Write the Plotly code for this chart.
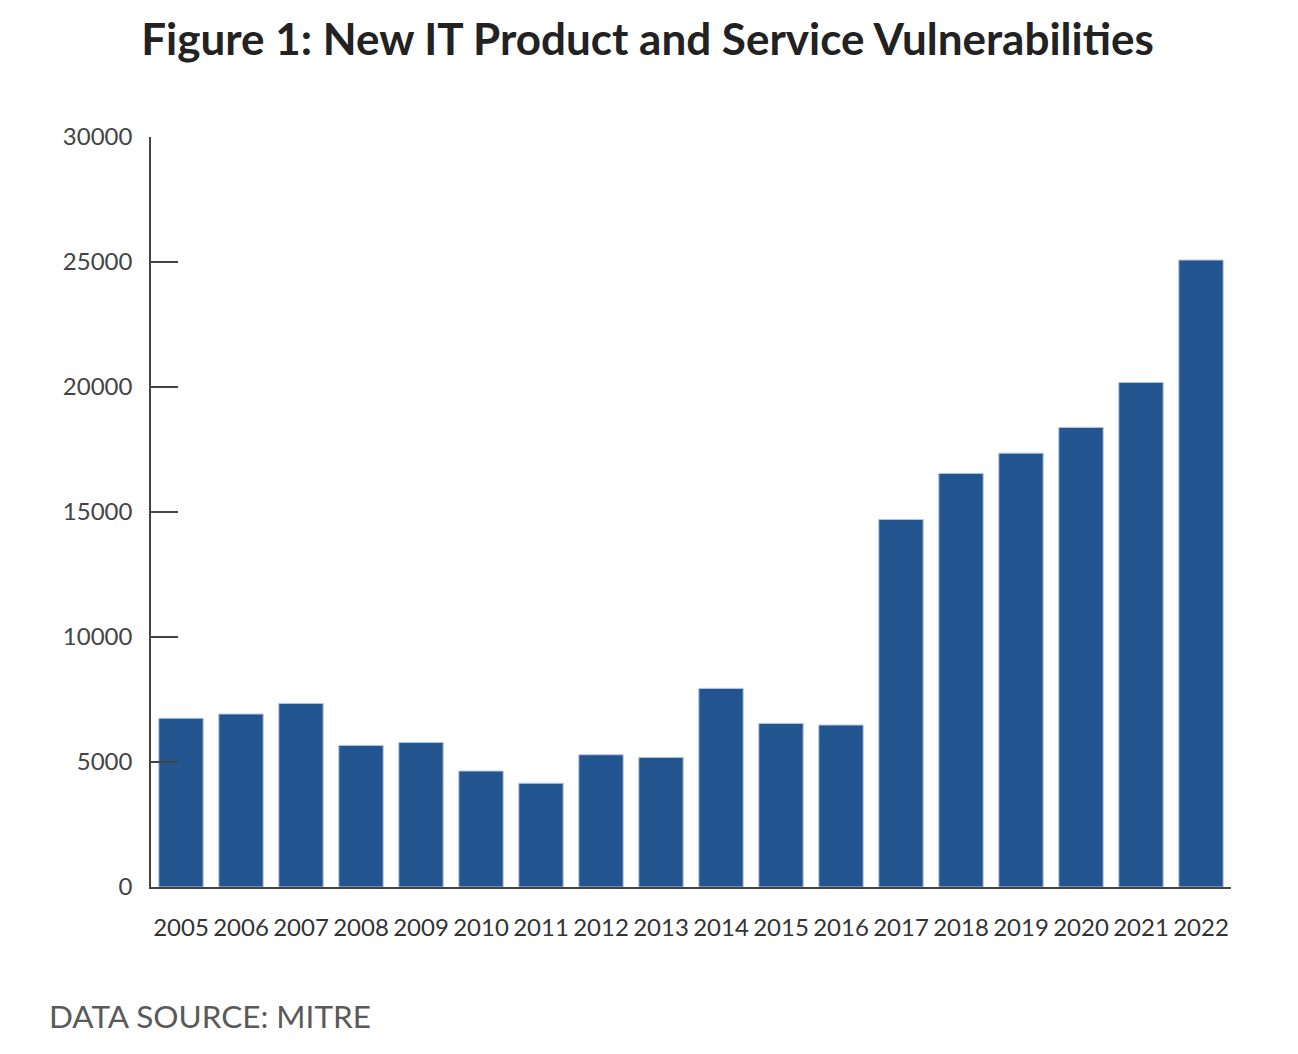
import plotly.graph_objects as go

years = ["2005", "2006", "2007", "2008", "2009", "2010", "2011", "2012", "2013",
         "2014", "2015", "2016", "2017", "2018", "2019", "2020", "2021", "2022"]
vulnerabilities = [6750, 6920, 7345, 5665, 5785, 4640, 4150, 5290, 5185,
                   7945, 6545, 6480, 14705, 16545, 17355, 18385, 20185, 25080]
y_ticks = [0, 5000, 10000, 15000, 20000, 25000, 30000]

title_text = "Figure 1: New IT Product and Service Vulnerabilities"
source_text = "DATA SOURCE: MITRE"

FONT = "Lato"
W, H = 1290, 1046

fig = go.Figure(
    go.Bar(
        x=years,
        y=vulnerabilities,
        marker=dict(color="#22558f", line=dict(color="#b7c8e0", width=1)),
        width=0.74,
    )
)

fig.update_layout(
    width=W,
    height=H,
    paper_bgcolor="white",
    plot_bgcolor="white",
    margin=dict(l=143, r=67, t=129, b=167),
    showlegend=False,
    title=dict(
        text=title_text,
        x=639.5 / W,
        xanchor="center",
        y=1 - 32 / H,
        yanchor="middle",
        font=dict(family=FONT, size=44, color="#222222", weight="bold"),
    ),
    annotations=[
        dict(
            text=source_text,
            xref="paper", yref="paper",
            x=-104 / 1080, y=-129 / 750,
            xanchor="left", yanchor="middle",
            showarrow=False,
            font=dict(family=FONT, size=31.5, color="#5a5a5a"),
        )
    ],
)

fig.update_xaxes(
    type="category",
    range=[-0.5, 17.5],
    showline=True,
    linecolor="#444444",
    linewidth=2,
    ticks="",
    showgrid=False,
    tickfont=dict(family=FONT, size=24, color="#333333"),
    ticklabelstandoff=18,
)

fig.update_yaxes(
    range=[0, 30000],
    tickvals=y_ticks,
    ticktext=[str(v) for v in y_ticks],
    showline=True,
    linecolor="#444444",
    linewidth=1.5,
    ticks="inside",
    ticklen=27,
    tickwidth=1.5,
    tickcolor="#444444",
    showgrid=False,
    zeroline=False,
    tickfont=dict(family=FONT, size=24, color="#444444"),
    ticklabelstandoff=12,
)

fig.write_html("out.html")
